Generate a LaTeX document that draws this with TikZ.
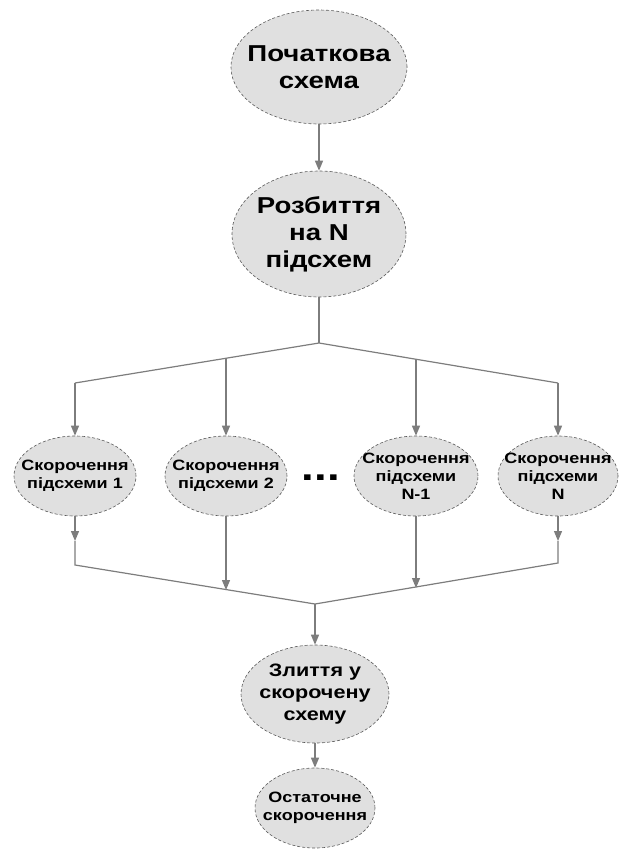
\documentclass[tikz,border=0pt]{standalone}
\usepackage{fontspec}
\setmainfont{Liberation Sans}[FakeStretch=1.2]
\usetikzlibrary{arrows.meta,shapes.geometric}
\definecolor{efill}{RGB}{224,224,224}
\definecolor{edraw}{RGB}{90,90,90}
\definecolor{lcol}{RGB}{125,125,125}
\tikzset{
  oval/.style={ellipse, fill=efill, draw=edraw, densely dashed, line width=0.6pt,
    align=center, inner sep=-22pt, font=\bfseries},
  big/.style={oval, font=\fontsize{23}{27}\selectfont\bfseries},
  mid/.style={oval, font=\fontsize{18}{22}\selectfont\bfseries},
  small/.style={oval, font=\fontsize{15}{18}\selectfont\bfseries},
  ln/.style={draw=lcol, line width=1.2pt},
  arr/.style={ln, -{Triangle[length=10pt,width=8pt]}}
}
\begin{document}
\begin{tikzpicture}[x=1pt,y=-1pt]
\useasboundingbox (0,0) rectangle (623,849);
% nodes
\node[big, minimum width=176, minimum height=114] (e0) at (319,67) {Початкова\\схема};
\node[big, minimum width=174, minimum height=126] (e1) at (319,234) {Розбиття\\на N\\підсхем};
\node[small, minimum width=122, minimum height=80] (s1) at (75,476) {Скорочення\\підсхеми 1};
\node[small, minimum width=122, minimum height=80] (s2) at (226,476) {Скорочення\\підсхеми 2};
\node[small, minimum width=124, minimum height=80] (s3) at (416,476) {Скорочення\\підсхеми\\N-1};
\node[small, minimum width=120, minimum height=80] (s4) at (558,476) {Скорочення\\підсхеми\\N};
\node[font=\fontsize{38}{38}\selectfont\bfseries, inner sep=0pt, anchor=base] (dots) at (321,480) {...};
\node[mid, minimum width=148, minimum height=98] (m) at (315,694) {Злиття у\\скорочену\\схему};
\node[small, minimum width=120, minimum height=80] (f) at (315,808) {Остаточне\\скорочення};
% coordinates
\coordinate (jtop) at (319,343);
\coordinate (cL) at (75,383);
\coordinate (cR) at (558,383);
\coordinate (b2) at (226,358);
\coordinate (b3) at (416,359);
\coordinate (a1) at (75,541);
\coordinate (a4) at (558,541);
\coordinate (cL2) at (75,565);
\coordinate (cR2) at (558,563);
\coordinate (jbot) at (315,604);
\coordinate (t2) at (226,590);
\coordinate (t3) at (416,588);
% connectors
\draw[arr] (e0) -- (e1);
\draw[ln] (e1) -- (jtop);
\draw[ln] (cL) -- (jtop) -- (cR);
\draw[arr] (cL) -- (s1);
\draw[arr] (b2) -- (s2);
\draw[arr] (b3) -- (s3);
\draw[arr] (cR) -- (s4);
\draw[arr] (s1) -- (a1);
\draw[arr] (s4) -- (a4);
\draw[ln] (a1) -- (cL2) -- (jbot) -- (cR2) -- (a4);
\draw[arr] (s2) -- (t2);
\draw[arr] (s3) -- (t3);
\draw[arr] (jbot) -- (m);
\draw[arr] (m) -- (f);
\end{tikzpicture}
\end{document}
